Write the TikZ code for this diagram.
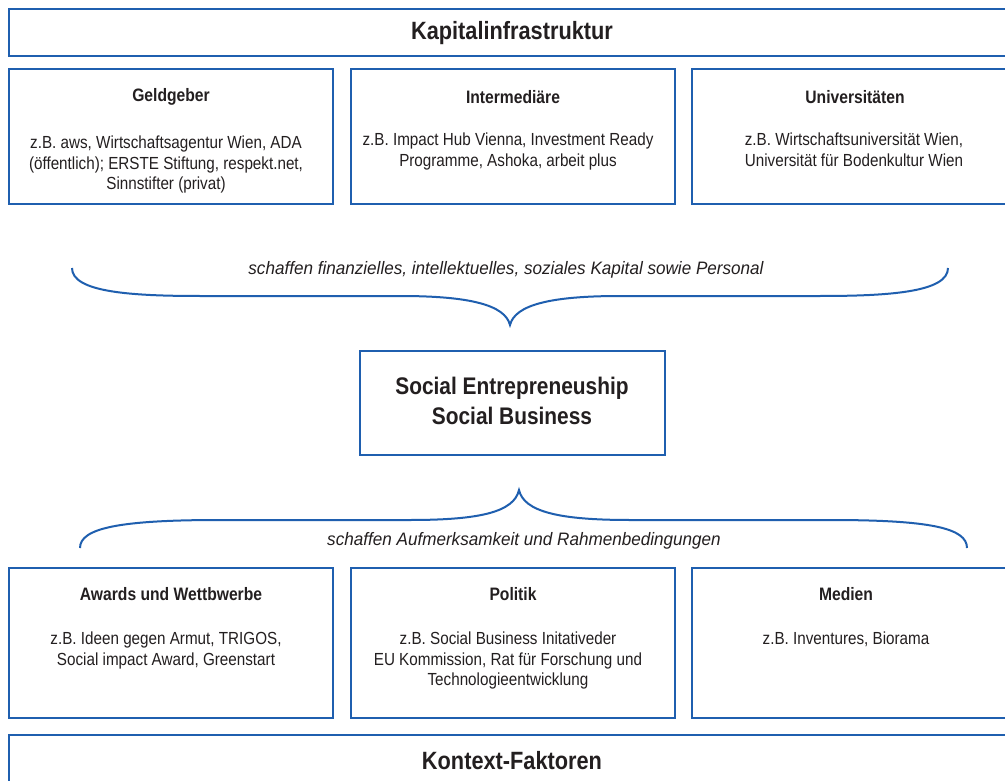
\documentclass[tikz,border=0pt]{standalone}
\usepackage{fontspec}
\setmainfont{Liberation Sans}[FakeStretch=0.87]
\newfontfamily\itfont{Liberation Sans}[FakeStretch=0.95]
\definecolor{bblue}{HTML}{1F5FAF}
\definecolor{txt}{HTML}{231F20}
\begin{document}
\begin{tikzpicture}[x=1pt,y=-1pt,
  box/.style={draw=bblue,line width=2pt},
  head/.style={font=\fontsize{25}{28}\selectfont\bfseries,text=txt,inner sep=0pt},
  ttl/.style={font=\fontsize{18}{21}\selectfont\bfseries,text=txt,inner sep=0pt},
  body/.style={font=\fontsize{17.5}{20.5}\selectfont,text=txt,align=center,inner sep=0pt,anchor=north},
  itl/.style={font=\fontsize{18}{20}\itfont\itshape,text=txt,inner sep=0pt},
  brace/.style={draw=bblue,line width=2pt}]
\useasboundingbox (0,0) rectangle (1005,781);
\fill[white] (0,0) rectangle (1005,781);
% top
\draw[box] (9,9) rectangle (1012,56);
\node[head] (kap) at (512,33) {Kapitalinfrastruktur};
% row 1
\draw[box] (9,69) rectangle (333,204);
\draw[box] (351,69) rectangle (675,204);
\draw[box] (692,69) rectangle (1012,204);
\node[ttl] (geld) at (171,97) {Geldgeber};
\node[body] (geldb) at (166,136) {z.B. aws, Wirtschaftsagentur Wien, ADA\\(öffentlich); ERSTE Stiftung, respekt.net,\\Sinnstifter (privat)};
\node[ttl] (inter) at (513,97) {Intermediäre};
\node[body] (interb) at (508,133) {z.B. Impact Hub Vienna, Investment Ready\\Programme, Ashoka, arbeit plus};
\node[ttl] (uni) at (855,97) {Universitäten};
\node[body] (unib) at (854,133) {z.B. Wirtschaftsuniversität Wien,\\Universität für Bodenkultur Wien};
% brace 1
\node[itl] (b1t) at (506,270) {schaffen finanzielles, intellektuelles, soziales Kapital sowie Personal};
\coordinate (b1l) at (72,268);
\coordinate (b1tip) at (510,325);
\coordinate (b1r) at (948,268);
\draw[brace] (b1l) .. controls (72,292) and (130,296) .. (200,296) -- (400,296) .. controls (470,296) and (505,305) .. (b1tip)
  .. controls (515,305) and (550,296) .. (620,296) -- (820,296) .. controls (890,296) and (948,292) .. (b1r);
% middle
\draw[box] (360,351) rectangle (665,455);
\node[head,align=center,font=\fontsize{24}{30}\selectfont\bfseries] (se) at (512,401) {Social Entrepreneuship\\Social Business};
% brace 2
\coordinate (b2tip) at (519,490);
\coordinate (b2l) at (80,548);
\coordinate (b2r) at (967,548);
\draw[brace] (b2l) .. controls (80,528) and (120,520) .. (220,520) -- (410,520) .. controls (480,520) and (514,512) .. (b2tip)
  .. controls (524,512) and (560,520) .. (630,520) -- (830,520) .. controls (930,520) and (967,528) .. (b2r);
\node[itl] (b2t) at (524,541) {schaffen Aufmerksamkeit und Rahmenbedingungen};
% row 3
\draw[box] (9,568) rectangle (333,718);
\draw[box] (351,568) rectangle (675,718);
\draw[box] (692,568) rectangle (1012,718);
\node[ttl] (aw) at (171,594) {Awards und Wettbwerbe};
\node[body] (awb) at (166,632) {z.B. Ideen gegen Armut, TRIGOS,\\Social impact Award, Greenstart};
\node[ttl] (pol) at (513,594) {Politik};
\node[body] (polb) at (508,632) {z.B. Social Business Initativeder\\EU Kommission, Rat für Forschung und\\Technologieentwicklung};
\node[ttl] (med) at (846,594) {Medien};
\node[body] (medb) at (846,632) {z.B. Inventures, Biorama};
% bottom
\draw[box] (9,735) rectangle (1012,790);
\node[head] (kon) at (512,761) {Kontext-Faktoren};
\end{tikzpicture}
\end{document}
